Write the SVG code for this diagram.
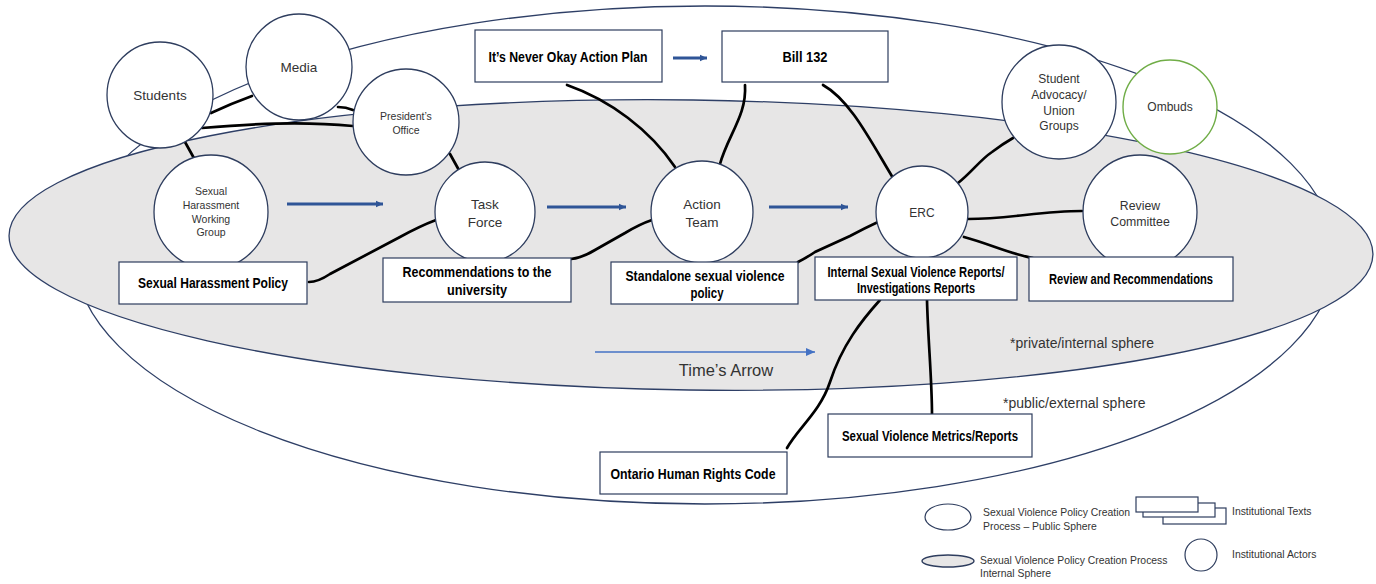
<svg xmlns="http://www.w3.org/2000/svg" width="1376" height="584" viewBox="0 0 1376 584">
<style>
.sph{stroke:#2E3F66;stroke-width:1.3}
.actor{fill:#fff;stroke:#2E3D5E;stroke-width:1.3}
.text-box{fill:#fff;stroke:#2E3D5E;stroke-width:1.2}
.conn{fill:none;stroke:#000;stroke-width:2.7;stroke-linecap:round}
.flow{fill:none;stroke:#2F5597;stroke-width:3}
.t{font-family:"Liberation Sans",Arial,sans-serif;fill:#333;text-anchor:middle}
.b{font-family:"Liberation Sans",Arial,sans-serif;font-weight:bold;fill:#000;text-anchor:middle;font-size:15px}
.s{font-family:"Liberation Sans",Arial,sans-serif;fill:#333}
</style>
<defs>
<marker id="ah" markerUnits="userSpaceOnUse" markerWidth="8" markerHeight="8" refX="7" refY="4" orient="auto">
<path d="M0,0.8 L7,4 L0,7.2 z" fill="#2F5597"/>
</marker>
<marker id="ahTime" markerUnits="userSpaceOnUse" markerWidth="10" markerHeight="10" refX="9" refY="5" orient="auto">
<path d="M0,1 L9,5 L0,9 z" fill="#4472C4"/>
</marker>
</defs>
<rect width="1376" height="584" fill="#fff"/>
<g id="spheres">
<ellipse id="public-sphere" class="sph" cx="705" cy="255" rx="630" ry="249" fill="#fff"/>
<ellipse id="internal-sphere" class="sph" cx="691" cy="245" rx="682" ry="145" fill="#E7E6E6" transform="rotate(0.8 691 245)"/>
</g>
<g id="connectors">
<path class="conn" d="M211,113 Q230,104 252,96"/>
<path class="conn" d="M202,128 C250,124 300,121 353,126"/>
<path class="conn" d="M338,107 Q346,107 353,110"/>
<path class="conn" d="M185,142 L195,160"/>
<path class="conn" d="M450,154 L460,172"/>
<path class="conn" d="M309,282 Q318,282 330,274 L400,237 Q420,226 436,220"/>
<path class="conn" d="M571,259 Q582,258 595,250 L625,233 Q640,224 652,220"/>
<path class="conn" d="M798,262 Q806,258 815,252 L850,236 Q865,228 878,222"/>
<path class="conn" d="M567,85 C610,100 650,130 675,167"/>
<path class="conn" d="M745,85 C747,115 728,135 720,164"/>
<path class="conn" d="M823,85 C850,100 870,140 893,178"/>
<path class="conn" d="M958,183 C972,172 980,160 992,152 C1000,146 1006,142 1013,138"/>
<path class="conn" d="M968,219 C1010,219 1040,211 1082,211"/>
<path class="conn" d="M964,237 C990,244 1010,254 1033,258"/>
<path class="conn" d="M880,300 C862,320 842,345 830,382 C820,412 798,428 787,448"/>
<path class="conn" d="M927,300 C928,340 932,380 932,415"/>
<path class="flow" d="M287,204 L383,204" marker-end="url(#ah)"/>
<path class="flow" d="M547,207 L626,207" marker-end="url(#ah)"/>
<path class="flow" d="M769,207 L848,207" marker-end="url(#ah)"/>
<path class="flow" d="M673,58 L707,58" marker-end="url(#ah)"/>
<path d="M595,352 L815,352" stroke="#4472C4" stroke-width="1.3" fill="none" marker-end="url(#ahTime)"/>
</g>
<g id="n-students"><circle class="actor" cx="160" cy="95" r="53"/><text class="t" x="160" y="100" font-size="13.5">Students</text></g>
<g id="n-media"><circle class="actor" cx="299" cy="67" r="53"/><text class="t" x="299" y="72" font-size="13.5">Media</text></g>
<g id="n-president"><circle class="actor" cx="406" cy="122" r="53"/><text class="t" x="406" y="120" font-size="10.5">President’s</text><text class="t" x="406" y="134" font-size="10.5">Office</text></g>
<g id="n-shwg"><circle class="actor" cx="211" cy="212" r="57"/><text class="t" x="211" y="195" font-size="10.5">Sexual</text><text class="t" x="211" y="209" font-size="10.5">Harassment</text><text class="t" x="211" y="223" font-size="10.5">Working</text><text class="t" x="211" y="236" font-size="10.5">Group</text></g>
<g id="n-taskforce"><circle class="actor" cx="485" cy="212" r="50"/><text class="t" x="485" y="209" font-size="13.5">Task</text><text class="t" x="485" y="227" font-size="13.5">Force</text></g>
<g id="n-actionteam"><circle class="actor" cx="702" cy="212" r="51"/><text class="t" x="702" y="209" font-size="13.5">Action</text><text class="t" x="702" y="227" font-size="13.5">Team</text></g>
<g id="n-erc"><circle class="actor" cx="922" cy="212" r="46"/><text class="t" x="922" y="217" font-size="12">ERC</text></g>
<g id="n-advocacy"><circle class="actor" cx="1059" cy="102" r="57"/><text class="t" x="1059" y="83" font-size="12">Student</text><text class="t" x="1059" y="99" font-size="12">Advocacy/</text><text class="t" x="1059" y="115" font-size="12">Union</text><text class="t" x="1059" y="130" font-size="12">Groups</text></g>
<g id="n-ombuds"><circle cx="1170" cy="107" r="47" fill="#fff" stroke="#70AD47" stroke-width="1.4"/><text class="t" x="1170" y="111" font-size="12">Ombuds</text></g>
<g id="n-review"><circle class="actor" cx="1140" cy="212" r="57"/><text class="t" x="1140" y="210" font-size="12.3">Review</text><text class="t" x="1140" y="226" font-size="12.3">Committee</text></g>
<g id="t-shp"><rect class="text-box" x="119" y="262" width="188" height="42"/><text class="b" x="213" y="288" textLength="150" lengthAdjust="spacingAndGlyphs">Sexual Harassment Policy</text></g>
<g id="t-recs"><rect class="text-box" x="383" y="258" width="188" height="44"/><text class="b" x="477" y="277" textLength="149" lengthAdjust="spacingAndGlyphs">Recommendations to the</text><text class="b" x="477" y="295" textLength="60" lengthAdjust="spacingAndGlyphs">university</text></g>
<g id="t-standalone"><rect class="text-box" x="611" y="262" width="187" height="42"/><text class="b" x="705" y="281" textLength="159" lengthAdjust="spacingAndGlyphs">Standalone sexual violence</text><text class="b" x="707" y="298" textLength="33" lengthAdjust="spacingAndGlyphs">policy</text></g>
<g id="t-internal"><rect class="text-box" x="815" y="257" width="202" height="43"/><text class="b" x="916" y="277" textLength="177" lengthAdjust="spacingAndGlyphs">Internal Sexual Violence Reports/</text><text class="b" x="916" y="293" textLength="118" lengthAdjust="spacingAndGlyphs">Investigations Reports</text></g>
<g id="t-reviewrecs"><rect class="text-box" x="1029" y="257" width="204" height="44"/><text class="b" x="1131" y="284" textLength="164" lengthAdjust="spacingAndGlyphs">Review and Recommendations</text></g>
<g id="t-neverokay"><rect class="text-box" x="475" y="30" width="187" height="52"/><text class="b" x="568" y="62" textLength="159" lengthAdjust="spacingAndGlyphs">It’s Never Okay Action Plan</text></g>
<g id="t-bill132"><rect class="text-box" x="722" y="31" width="166" height="51"/><text class="b" x="805" y="62" textLength="45" lengthAdjust="spacingAndGlyphs">Bill 132</text></g>
<g id="t-ontario"><rect class="text-box" x="600" y="452" width="187" height="42"/><text class="b" x="693" y="479" textLength="165" lengthAdjust="spacingAndGlyphs">Ontario Human Rights Code</text></g>
<g id="t-metrics"><rect class="text-box" x="828" y="414" width="204" height="43"/><text class="b" x="930" y="441" textLength="176" lengthAdjust="spacingAndGlyphs">Sexual Violence Metrics/Reports</text></g>
<g id="labels">
<text class="t" x="726" y="376" font-size="16.5">Time’s Arrow</text>
<text class="s" x="1010" y="348" font-size="14">*private/internal sphere</text>
<text class="s" x="1003" y="408" font-size="14">*public/external sphere</text>
</g>
<g id="legend">
<ellipse cx="948" cy="517" rx="23" ry="13" fill="#fff" stroke="#2E3D5E" stroke-width="1.2"/>
<text class="s" x="983" y="516" font-size="10.4">Sexual Violence Policy Creation</text>
<text class="s" x="983" y="530" font-size="10.4">Process – Public Sphere</text>
<rect x="1163" y="508" width="63" height="16" fill="#fff" stroke="#2E3D5E" stroke-width="1.2"/>
<rect x="1143" y="503" width="72" height="14" fill="#fff" stroke="#2E3D5E" stroke-width="1.2"/>
<rect x="1136" y="497" width="62" height="15" fill="#fff" stroke="#2E3D5E" stroke-width="1.2"/>
<text class="s" x="1232" y="515" font-size="10.4">Institutional Texts</text>
<ellipse cx="948" cy="561" rx="26" ry="6" fill="#E7E6E6" stroke="#2E3D5E" stroke-width="1.4"/>
<text class="s" x="980" y="564" font-size="10.4">Sexual Violence Policy Creation Process</text>
<text class="s" x="980" y="577" font-size="10.4">Internal Sphere</text>
<ellipse cx="1201" cy="555" rx="16" ry="16" fill="#fff" stroke="#2E3D5E" stroke-width="1.2"/>
<text class="s" x="1232" y="558" font-size="10.4">Institutional Actors</text>
</g>
</svg>
